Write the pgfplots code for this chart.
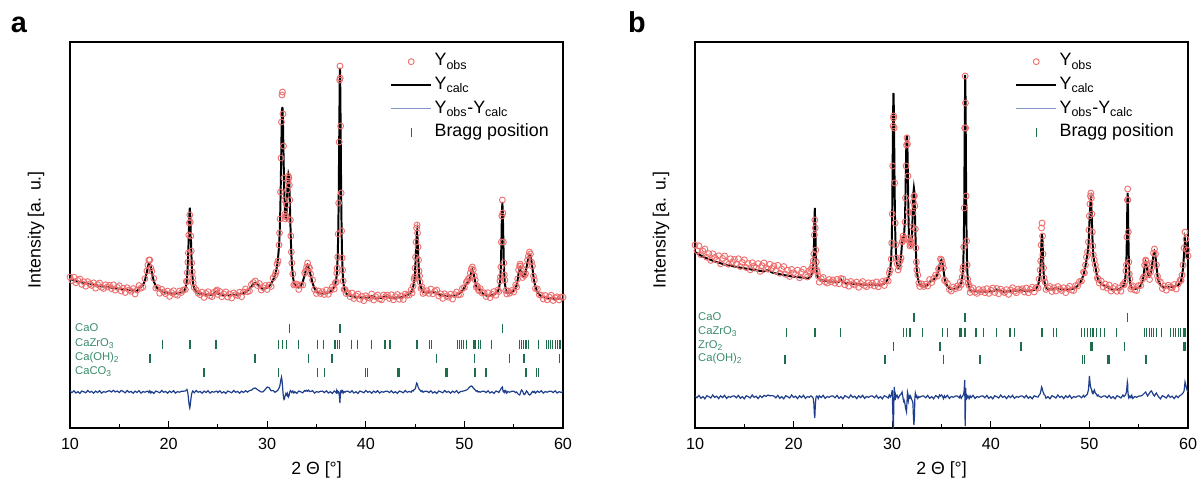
\documentclass[border=0pt]{standalone}
\usepackage{fontspec}
\setmainfont{Liberation Sans}
\usepackage{pgfplots}
\pgfplotsset{compat=1.18}
\usepackage{pgfplotstable}

\definecolor{obsred}{HTML}{EE6E6E}
\definecolor{diffblue}{HTML}{1F3E8C}
\definecolor{diffleg}{HTML}{8496C8}
\definecolor{bragg}{HTML}{1F6E4B}
\definecolor{phase}{HTML}{3C8C6C}

% heights are in pixels above the bottom frame (0..386)
% panel a
\pgfplotstableread{
x obs calc diff
10.0 151 149 36.8
10.2 147.4 148.4 35.4
10.4 150.8 147.8 37.2
10.6 145.2 147.2 35
10.8 147.6 146.6 36.3
11.0 149 146.0 34.6
11.2 143.6 145.6 37
11.4 146.2 145.2 36.2
11.6 141.8 144.8 35.2
11.8 146.4 144.4 37.5
12.0 144 144.0 35.7
12.2 142.6 143.6 36.6
12.4 145.2 143.2 34.8
12.6 139.8 142.8 36.9
12.8 143.4 142.4 35.5
13.0 145 142.0 37.3
13.2 140.7 141.7 34.9
13.4 139.5 141.5 36.4
13.6 143.2 141.2 35.8
13.8 141 141.0 36.7
14.0 142.7 140.7 37.3
14.2 139.4 140.4 36
14.4 143.2 140.2 37.7
14.6 137.9 139.9 36
14.8 140.6 139.6 37
15.0 142.3 139.3 35.4
15.2 137 139.0 37.5
15.4 139.8 138.8 36.5
15.6 135.5 138.5 35.2
15.8 140.3 138.3 37.5
16.0 138 138.0 35.7
16.2 136.7 137.7 36.6
16.4 139.4 137.4 34.8
16.6 134.1 137.1 36.9
16.8 137.9 136.9 35.5
17.0 142.5 139.5 37.3
17.2 139.8 140.8 34.9
17.4 141 143.0 36.4
17.6 149.3 147.3 35.8
17.8 157 156.2 36.7
17.9 163 161 36.8
18.0 168 165 35.4
18.1 168 165.2 37.2
18.2 160 160.8 35
18.3 156.7 155.7 36.3
18.5 149.6 146.6 34.6
18.7 139.9 141.9 37
18.9 140.4 139.4 36.2
19.1 134.7 137.7 35.2
19.3 138.7 136.7 37.5
19.5 136 136.0 35.7
19.7 134.3 135.3 36.6
19.9 136.9 134.9 34.8
20.1 131.6 134.6 36.9
20.3 135.4 134.4 35.5
20.5 137.3 134.3 37.3
20.7 133.5 134.5 34.9
20.9 132.7 134.7 36.4
21.1 137 135.0 35.8
21.3 135.5 135.5 36.7
21.5 138 136.0 36.8
21.7 138.5 139.5 37
21.8 146.8 143.8 38
21.85 146.2 148.2 38.5
21.9 155.3 154.3 37.5
21.95 165.8 163.8 35
22.0 175 176.9 31
22.05 193 194.3 26
22.1 205 211.7 22
22.15 213 220.4 20
22.2 206 211.7 23
22.25 192 194.3 28
22.3 177 176.9 32
22.35 165 163.8 34.5
22.4 156 154.3 36
22.45 150 148.2 37
22.5 145 143.8 36.5
22.6 140.5 139.5 35.2
22.8 138 136.0 37.5
23.0 134.9 134.9 35.7
23.2 133.3 134.3 36.6
23.4 135.9 133.9 34.8
23.6 130.6 133.6 36.9
23.8 134.4 133.4 35.5
24.0 136.3 133.3 37.3
24.2 132.2 133.2 34.9
24.4 131.3 133.3 36.4
24.6 135.8 133.8 35.8
24.8 136.8 135.8 36.7
24.9 138 136.0 36.8
25.0 133.5 134.5 35.4
25.2 136.5 133.5 37.2
25.4 131.2 133.2 35
25.6 134.1 133.1 36.3
25.8 136.1 133.1 34.6
26.0 131 133.0 37
26.2 134 133.0 36.2
26.4 130 133.0 35.2
26.6 135.1 133.1 37.5
26.8 133.3 133.3 35.7
27.0 132.5 133.5 36.6
27.2 135.8 133.8 34.8
27.4 131.3 134.3 36.9
27.6 136 135.0 35.5
27.8 139 136.0 37.3
28.0 136.3 137.3 35.9
28.2 137 139.0 37.4
28.4 143.5 141.5 37.8
28.6 145.5 144.0 39.5
28.8 147 145.0 40
29.0 142.5 143.5 38.4
29.2 144.5 141.5 37.2
29.4 138 140.0 36
29.6 140.3 139.3 36.3
29.8 142.5 139.5 38.6
30.0 138.5 140.5 41
30.2 143 142.0 40.2
30.4 141.5 144.5 37.2
30.6 150 148.0 37.5
30.8 153 153.0 35.7
30.9 156 157 36.6
31.0 164 162 37
31.1 167 170 38
31.2 183 182 40
31.25 195 192 41
31.3 209 206 43
31.35 236 228 46
31.4 270 258 49
31.45 306 292 51
31.5 333 318 48
31.55 336 321 42
31.6 314 305 36
31.65 282 277 31
31.7 250 250 28.5
31.75 228 230 29
31.8 214 217 31.5
31.85 209 211 33
31.9 212 210 34.5
31.95 211 214 33
32.0 223 225 32.5
32.05 238 240 34.5
32.1 247 250 33
32.15 252 254 31
32.2 250 252 32
32.25 243 242 34
32.3 228 225 36
32.35 208 205 37.5
32.4 192 188 37
32.45 176 174 36.5
32.5 165 164 35.5
32.6 154 152 37
32.7 143 146 35
32.8 144 143 36.3
33.0 144 141 34.6
33.2 138.5 140.5 37
33.4 143 142 36.2
33.6 143 146 35.2
33.8 155 153 37.5
33.9 157 157 36.7
34.0 161 161 37.6
34.1 165 163 36.8
34.2 161 161.5 37.9
34.3 160 158 36.5
34.4 154 153 36.5
34.6 148 145 37.3
34.8 138.5 139.5 34.9
35.0 134.5 136.5 36.4
35.2 137 135 35.8
35.4 134.5 134.5 36.7
35.6 136.3 134.3 36.8
35.8 133.5 134.5 35.4
36.0 138 135 37.2
36.2 133.7 135.7 35
36.4 137.5 136.5 36.3
36.6 141 138 34.6
36.8 139 141 37
36.9 145 144 36.2
37.0 146 149 35.2
37.05 155 153 37.5
37.1 160 160 35.7
37.15 171 172 36.6
37.2 194 192 35.5
37.25 225 228 36
37.3 286 285 34
37.35 348 345 28
37.38 362 360 25
37.4 350 352 30
37.45 302 300 37
37.5 235 236 37.5
37.55 197 195 36
37.6 170 170 36.7
37.65 158 156 37.3
37.7 147 148 34.9
37.8 138.5 140.5 36.4
37.9 138.5 136.5 35.8
38.0 134.5 134.5 36.7
38.2 135 133 36.8
38.4 131.3 132.3 35.4
38.6 135 132 37.2
38.8 129.5 131.5 35
39.0 132.2 131.2 36.3
39.2 134 131 34.6
39.4 128.8 130.8 37
39.6 131.5 130.5 36.2
39.8 127.3 130.3 35.2
40.0 132.2 130.2 37.5
40.2 130.3 130.3 35.7
40.4 129.8 130.8 36.6
40.6 134 132 34.8
40.8 128 131 36.9
41.0 131.3 130.3 35.5
41.2 133 130 37.3
41.4 129 130 34.9
41.6 128.2 130.2 36.4
41.8 133 131 35.8
42.0 131.5 131.5 36.7
42.2 133 131 36.8
42.4 129.5 130.5 35.4
42.6 133.3 130.3 37.2
42.8 128.2 130.2 35
43.0 131.3 130.3 36.3
43.2 133.5 130.5 34.6
43.4 128.7 130.7 37
43.6 132 131 36.2
43.8 128.5 131.5 35.2
44.0 134 132 37.5
44.2 132.8 132.8 35.7
44.4 133 134 36.6
44.6 138 136 35.8
44.7 135 138 37.5
44.8 142 141 37
44.9 149 146 38.5
44.95 151 150 38.5
45.0 160 157 39
45.05 171 167 40.5
45.1 186 180 42.5
45.15 200 192 45
45.2 203 196 44.5
45.25 195 190 43
45.3 181 177 41
45.35 168 164 40
45.4 157 155 39
45.45 152 149 38.5
45.5 146 145 38
45.6 139.5 140.5 36.5
45.7 141 138 37.4
45.8 134.5 136.5 35.8
46.0 135.5 135.5 36.7
46.2 137.3 135.3 36.8
46.4 134.6 135.6 35.4
46.6 139 136 37.2
46.8 134.2 136.2 35
47.0 136.8 135.8 36.3
47.2 138 135 34.6
47.4 132 134 37
47.6 134.2 133.2 36.2
47.8 129.6 132.6 35.2
48.0 134.2 132.2 37.5
48.2 132 132 35.7
48.4 130.8 131.8 36.6
48.6 133.8 131.8 34.8
48.8 129 132 36.9
49.0 133.4 132.4 35.5
49.2 136 133 37.3
49.4 133 134 34.9
49.6 133.5 135.5 36.4
49.8 139.5 137.5 36.8
50.0 140.5 140.5 37.2
50.2 146 144 38
50.3 147 145 38.5
50.4 149 146 39.5
50.5 150 148 40.5
50.6 155 152 41.5
50.7 159 156 42
50.8 161 158 41.5
50.9 158 156 40
51.0 152 151 39
51.1 148 146 38
51.2 141 142 36.7
51.3 142 140 37.3
51.4 138.5 139.5 35.9
51.5 137 139 36.4
51.6 139.5 137.5 35.8
51.8 135 135 36.7
52.0 135.3 133.3 36.8
52.2 131.5 132.5 35.4
52.4 135.3 132.3 37.2
52.6 130.4 132.4 35
52.8 133.8 132.8 36.3
53.0 136.5 133.5 34.6
53.2 132.7 134.7 37
53.4 138 137 36.2
53.5 136.5 139.5 35.5
53.6 147 145 37.5
53.65 151 151 38
53.7 161 162 39
53.75 186 184 40
53.8 212 212 40.5
53.85 228 226 41
53.9 215 214 38
53.95 186 188 36
54.0 165 165 36
54.05 153 152 37
54.1 148 145 35.5
54.2 137.5 138.5 37.3
54.3 134 136 34.9
54.4 137 135 36.4
54.6 134.8 134.8 35.8
54.8 137.5 135.5 36.7
55.0 136 137 36.8
55.2 143 140 35.4
55.3 141 143 36
55.4 149 148 34.5
55.5 158 155 33.5
55.6 162 160 33
55.65 164 161 34
55.7 162 160 36
55.8 157 156 38
55.9 150.5 152.5 37
56.0 153.5 151.5 34
56.1 152.5 152.5 33.5
56.2 154.5 155.5 35
56.3 162.5 160.5 37
56.4 168 166 36
56.5 172 170.5 34
56.6 176 173 33
56.7 174 172 33.5
56.8 166 167 35
56.9 162 160 36.5
57.0 152 152 35.7
57.1 148 146 36.6
57.2 139.5 141.5 34.8
57.4 139 136 36.9
57.6 133.3 133.3 35.5
57.8 132.8 131.8 37.3
58.0 129 131 34.9
58.2 132.5 130.5 36.4
58.4 128.2 130.2 35.8
58.6 131 130 36.7
58.8 132.8 129.8 36.8
59.0 127.5 129.5 35.4
59.2 130.3 129.3 37.2
59.4 131.2 129.2 35
59.6 128.1 129.1 36.3
59.8 131 129 35.6
60.0 130.8 128.8 36.4
}\pata

% panel b
\pgfplotstableread{
x obs calc diff
10.0 183 176 32
10.2 177.3 174.8 30.2
10.4 182.1 173.6 32.6
10.6 173.4 172.4 29.7
10.8 176.9 171.4 31.4
11.0 179 170.5 29.2
11.2 170.7 169.7 32.3
11.4 174.4 168.9 31.3
11.6 167.6 168.1 30
11.8 174.3 167.3 33
12.0 170.5 166.5 30.6
12.2 168.4 165.9 31.8
12.4 172.3 165.3 29.4
12.6 164.2 164.7 32.2
12.8 169.6 164.1 30.4
13.0 172 163.5 32.7
13.2 165.6 163.1 29.6
13.4 163.7 162.7 31.5
13.6 169.3 162.3 30.7
13.8 165.9 161.9 31.9
14.0 168.5 161.5 32
14.2 163.6 161.1 30.2
14.4 169.3 160.8 32.6
14.6 161.4 160.4 29.7
14.8 165.6 160.1 31.4
15.0 168.2 159.7 29.2
15.2 160.4 159.4 32.3
15.4 164.5 159.0 31.3
15.6 158.2 158.7 30
15.8 165.3 158.3 33
16.0 162 158.0 30.6
16.2 160.2 157.7 31.8
16.4 164.4 157.4 29.4
16.6 156.6 157.1 32.2
16.8 162.3 156.8 30.4
17.0 165.1 156.6 32.7
17.2 160 157.5 31.6
17.4 158.8 157.8 33
17.6 163.8 156.8 32.2
17.8 159.6 155.6 32.4
18.0 162 155.0 32
18.2 157.1 154.6 30.2
18.4 162.7 154.2 32.6
18.6 154.8 153.8 29.7
18.8 158.9 153.4 31.4
19.0 161.5 153.0 29.2
19.2 153.7 152.7 32.3
19.4 157.8 152.3 31.3
19.6 151.5 152.0 30
19.8 158.6 151.6 33
20.0 155.3 151.3 30.6
20.2 153.6 151.1 31.8
20.4 157.9 150.9 29.4
20.6 150.2 150.7 32.2
20.8 156 150.5 30.4
21.0 158.8 150.3 32.7
21.2 152.6 150.1 29.6
21.4 151 150.0 31.5
21.6 157.2 150.2 30.7
21.7 155 151 31.9
21.8 159.5 152.5 32
21.9 158 155.5 31
21.95 163 158.5 30.5
22.0 167 164 29
22.05 174 175 25
22.1 193 200 15
22.15 208 220 10
22.2 200 203 22
22.25 178 176 29
22.3 166 163 31.5
22.35 158 156 32
22.4 156 152.5 31.8
22.5 152 150 29.4
22.6 145.8 148.8 32.2
22.8 149.3 148.3 30.4
23.0 150.5 147.5 32.7
23.2 146.2 147.2 29.6
23.4 144.9 146.9 31.5
23.6 148.6 146.6 30.7
23.8 146.3 146.3 31.9
24.0 148 146.0 32
24.2 144.8 145.8 30.2
24.4 148.7 145.7 32.6
24.6 144.3 146.3 29.7
24.8 149.5 148.5 31.4
25.0 149 146.0 29.2
25.2 143.2 145.2 32.3
25.4 146 145.0 31.3
25.6 141.8 144.8 30
25.8 146.6 144.6 33
26.0 144.2 144.2 30.6
26.2 143 144.0 31.8
26.4 145.9 143.9 29.4
26.6 140.7 143.7 32.2
26.8 144.6 143.6 30.4
27.0 146.5 143.5 32.7
27.2 142.4 143.4 29.6
27.4 141.3 143.3 31.5
27.6 145.2 143.2 30.7
27.8 143.1 143.1 31.9
28.0 145 143.0 32
28.2 142 143.0 30.2
28.4 146.1 143.1 32.6
28.6 141.2 143.2 29.7
28.8 144.3 143.3 31.4
29.0 146.5 143.5 29.2
29.2 142.5 144.5 32.3
29.4 147.5 146.5 31.3
29.6 147 150 30
29.7 155 153 33
29.8 158 158 31
29.9 169 170 33
29.95 185 185 35
30.0 214 215 38
30.05 262 270 20
30.1 302 320 0.5
30.13 310 335 2
30.15 312 330 15
30.2 300 290 41
30.25 245 235 36
30.3 205 200 28
30.35 183 182 33
30.4 170 172 31
30.5 164 163 32.6
30.6 158 160 29.7
30.7 161.5 160.5 31.4
30.8 167 164 33
30.9 170 172 34
31.0 186 185 36
31.05 187 190 33
31.1 192 190 30
31.15 189 189 27
31.2 190 192 28
31.3 206 210 24
31.35 230 235 20
31.4 262 268 18
31.45 283 290 16
31.5 290 293 26
31.55 284 278 36
31.6 252 245 34
31.65 216 212 28
31.7 190 192 31
31.75 186 185 32
31.8 182 184 30.5
31.85 187 186 32
31.9 183 184 31
31.95 185 186 29
32.0 190 192 28
32.05 201 205 27
32.1 215 222 25
32.15 226 235 12
32.2 232 240 3
32.25 232 236 10
32.3 222 218 30
32.35 199 196 35
32.4 180 178 33
32.45 166 165 31
32.5 158 157 32
32.6 153 150 29.6
32.7 145 146 31.5
32.8 141.5 143.5 30.7
33.0 144 142 31.9
33.2 141.5 141.5 32
33.4 143.8 141.8 30.2
33.6 142 143 32.6
33.8 148.5 145.5 29.7
34.0 145.5 147.5 31.4
34.2 149.5 148.5 29.2
34.4 153 150 32.3
34.6 152 154 31.3
34.7 159 158 30
34.8 160 163 33
34.9 169 167 32
35.0 168 168 33
35.1 164 165 31.8
35.2 160 158 29.4
35.3 148 151 32.2
35.4 147 146 30.4
35.6 144.5 141.5 32.7
35.8 138.5 139.5 29.6
36.0 137 139 31.5
36.2 141 139 30.7
36.4 139.3 139.3 31.9
36.6 142 140 32
36.8 140.5 141.5 30.2
36.9 146 143 32.6
37.0 143.5 145.5 29.7
37.1 151 150 31.4
37.15 158 155 32
37.2 161 163 33
37.25 181 180 34
37.3 220 215 38
37.35 300 290 48
37.4 352 353 2
37.43 325 340 20
37.45 300 310 40
37.5 232 235 28
37.55 187 185 33
37.6 163 162 32
37.65 149 151 30.6
37.7 145 145 31.8
37.8 142.5 140.5 29.4
37.9 135.5 138.5 32.2
38.0 138.5 137.5 30.4
38.2 140 137 32.7
38.4 135.8 136.8 29.6
38.6 134.6 136.6 31.5
38.8 138.5 136.5 30.7
39.0 136.4 136.4 31.9
39.2 138.3 136.3 32
39.4 135.3 136.3 30.2
39.6 139.4 136.4 32.6
39.8 134.6 136.6 29.7
40.0 137.8 136.8 31.4
40.2 140 137 29.2
40.4 135.5 137.5 32.3
40.6 139.5 138.5 31.3
40.8 134.3 137.3 30
41.0 138.8 136.8 33
41.2 136.5 136.5 30.6
41.4 135.4 136.4 31.8
41.6 138.4 136.4 29.4
41.8 133.6 136.6 32.2
42.0 138 137 30.4
42.2 140.3 137.3 32.7
42.4 136.6 137.6 29.6
42.6 135.2 137.2 31.5
42.8 139 137 30.7
43.0 137.8 137.8 31.9
43.2 139.3 137.3 32
43.4 136 137 30.2
43.6 140 137 32.6
43.8 135.2 137.2 29.7
44.0 138.5 137.5 31.4
44.2 140.8 137.8 29.2
44.4 136 138 32.3
44.6 140.5 139.5 31.3
44.8 140 143 31
44.9 149 147 33
45.0 158 155 34
45.05 167 163 36
45.1 183 177 38
45.15 200 190 41
45.2 205 194 40
45.25 192 186 38
45.3 174 170 36
45.35 160 157 35
45.4 150 149 33.5
45.5 146 143 32.6
45.6 138.5 140.5 29.7
45.8 140 139 31.4
46.0 141.5 138.5 29.2
46.2 136.5 138.5 32.3
46.4 140.3 139.3 31.3
46.6 137 140 30
46.8 141.5 139.5 33
47.0 139 139 30.6
47.2 137.5 138.5 31.8
47.4 140.3 138.3 29.4
47.6 135.3 138.3 32.2
47.8 139.5 138.5 30.4
48.0 141.8 138.8 32.7
48.2 138 139 29.6
48.4 137.5 139.5 31.5
48.6 142.5 140.5 30.7
48.8 142 142 31.9
49.0 146.5 144.5 32
49.2 147 148 30.2
49.4 156 153 32.6
49.5 155 157 31
49.6 163 162 32
49.7 171 168 33
49.8 176 174 34
49.9 186 182 38
49.95 198 192 44
50.0 212 205 52
50.05 224 216 47
50.1 232 225 42
50.15 235 228 40
50.2 230 222 39
50.25 214 208 37
50.3 196 192 35
50.35 182 180 36
50.4 173 172 35
50.5 168 166 38
50.6 163 162 35
50.7 158 156 34
50.8 150 151 32
50.9 149 148 33
51.0 145 146 31.5
51.2 147 144 30.7
51.4 141 143 31.9
51.6 144 142 32
51.8 140 141 30.2
52.0 143 140 32.6
52.2 137 139 29.7
52.4 139.5 138.5 31.4
52.6 141.5 138.5 29.2
52.8 136.7 138.7 32.3
53.0 140 139 31.3
53.2 136.8 139.8 30
53.4 143.5 141.5 33
53.5 143 143 31.5
53.6 146 147 32.5
53.7 157 155 34
53.75 163 166 36
53.8 191 190 40
53.85 228 225 46
53.88 239 235 44
53.9 228 230 37
53.95 196 195 32
54.0 166 168 30
54.05 154 154 31
54.1 149 147 32
54.2 139 142 30.4
54.3 141 140 32.7
54.4 142.3 139.3 29.6
54.6 138 139 31.5
54.8 137.5 139.5 30.7
55.0 142.5 140.5 31.9
55.2 142.5 142.5 32
55.4 149 147 33
55.5 151 152 34
55.6 163 161 35
55.7 168 166 36
55.75 167 165 35
55.8 164 162 34
55.9 154 156 32
56.0 153.5 152.5 33.5
56.1 148.5 151.5 35
56.2 156 154 36.5
56.3 160 159 37
56.4 165 166 35
56.5 175 173 33
56.6 179 176 32
56.7 174 172 34
56.8 163 162 35
56.9 152 153 33
57.0 148 147 31.4
57.2 146 143 29.2
57.4 139.5 141.5 32.3
57.6 142 141 31.3
57.8 137.8 140.8 30
58.0 142.8 140.8 33
58.2 141 141 30.6
58.4 140.2 141.2 31.8
58.6 143.5 141.5 29.4
58.8 139 142 32.2
59.0 144 143 30.4
59.2 148 145 32.7
59.3 147.5 147.5 33
59.4 153 152 34
59.5 163 160 35
59.6 180 174 37
59.7 196 188 46
59.8 189 182 42
59.9 178 172 38
60.0 172 168 36
}\patb

\pgfplotsset{
  xrd/.style={
    width=123.25mm, height=96.5mm, scale only axis,
    xmin=10, xmax=60, ymin=0, ymax=386,
    xtick={10,20,...,60}, minor xtick={15,25,...,55},
    ytick=\empty, xtick pos=bottom, tick align=inside,
    major tick length=1.75mm, minor tick length=1mm,
    every tick/.style={black, line width=0.8pt},
    axis line style={line width=1.1pt},
    /pgf/number format/assume math mode=true,
    tick label style={font=\fontsize{11.5}{13}\selectfont},
    xticklabel style={yshift=-1.2mm},
    xlabel={2 Θ [°]}, ylabel={Intensity [a. u.]},
    label style={font=\fontsize{12.6}{14}\selectfont},
    xlabel style={at={(axis description cs:0.5,-0.109)}, anchor=center},
    ylabel style={at={(axis description cs:-0.069,0.514)}, anchor=center},
    legend cell align=left,
    legend image code/.code={\draw[mark repeat=2,mark phase=2,#1] plot coordinates {(0mm,0mm) (5mm,0mm) (10mm,0mm)};},
    legend style={draw=none, fill=none, at={(axis description cs:0.649,1)}, anchor=north west,
      yshift=-1.9mm, inner sep=0pt, row sep=0pt,
      font=\fontsize{12.7}{14}\selectfont,
      nodes={inner sep=0.6mm, text height=3.4mm, text depth=1.3mm}},
  },
  obs/.style={only marks, mark=o, mark size=2.1pt, obsred, mark options={line width=0.65pt}},
  calc/.style={black, line width=1.4pt, no marks},
  dif/.style={diffblue, line width=0.85pt, no marks, legend image post style={diffleg, line width=0.8pt}},
  br/.style={only marks, mark=|, mark size=3.2pt, bragg, mark options={line width=0.8pt}},
}
\tikzset{ph/.style={font=\fontsize{8}{9}\selectfont, text=phase, anchor=west, inner sep=0pt}}

\begin{document}
\begin{tikzpicture}
\begin{axis}[xrd]
\addplot[obs] table[x=x, y=obs] {\pata};
\addlegendentry{Y\textsubscript{obs}}
\addplot[calc] table[x=x, y=calc] {\pata};
\addlegendentry{Y\textsubscript{calc}}
\addplot[dif] table[x=x, y=diff] {\pata};
\addlegendentry{Y\textsubscript{obs}-Y\textsubscript{calc}}
% CaO
\addplot[br] coordinates {(32.24,100) (37.33,100) (37.42,100) (53.88,100)};
\addlegendentry{Bragg position}
% CaZrO3
\addplot[br, forget plot] coordinates {(19.36,84) (22.17,84) (24.81,84) (31.13,84) (31.53,84) (31.98,84)
  (33.16,84) (35.12,84) (35.69,84) (36.88,84) (37.11,84) (37.31,84) (38.57,84) (39.17,84)
  (40.6,84) (41.95,84) (42.45,84) (45.18,84) (45.28,84) (46.45,84) (46.68,84) (49.3,84)
  (49.5,84) (49.7,84) (49.9,84) (50.2,84) (50.9,84) (51.07,84) (51.4,84) (51.65,84)
  (52.77,84) (55.57,84) (55.8,84) (56.03,84) (56.25,84) (56.48,84) (57.5,84) (58.3,84)
  (58.55,84) (58.75,84) (58.95,84) (59.2,84) (59.45,84) (59.7,84)};
% Ca(OH)2
\addplot[br, forget plot] coordinates {(18.11,70) (28.76,70) (34.17,70) (36.53,70) (36.63,70)
  (47.19,70) (51.0,70) (54.56,70) (56.0,70) (56.12,70) (59.65,70)};
% CaCO3
\addplot[br, forget plot] coordinates {(23.59,56) (31.13,56) (35.12,56) (35.8,56) (40.0,56)
  (40.15,56) (43.2,56) (43.37,56) (48.13,56) (48.26,56) (51.0,56) (51.15,56) (52.1,56)
  (52.26,56) (56.2,56) (56.3,56) (57.33,56) (57.5,56)};
\node[ph] at (axis cs:10.5,100) {CaO};
\node[ph] at (axis cs:10.5,84) {CaZrO\textsubscript{3}};
\node[ph] at (axis cs:10.5,70) {Ca(OH)\textsubscript{2}};
\node[ph] at (axis cs:10.5,56) {CaCO\textsubscript{3}};
\end{axis}

\begin{axis}[xrd, at={(156.25mm,0)}]
\addplot[obs] table[x=x, y=obs] {\patb};
\addlegendentry{Y\textsubscript{obs}}
\addplot[calc] table[x=x, y=calc] {\patb};
\addlegendentry{Y\textsubscript{calc}}
\addplot[dif] table[x=x, y=diff] {\patb};
\addlegendentry{Y\textsubscript{obs}-Y\textsubscript{calc}}
% CaO
\addplot[br] coordinates {(32.21,111) (37.38,111) (53.88,111)};
\addlegendentry{Bragg position}
% CaZrO3
\addplot[br, forget plot] coordinates {(19.3,96) (22.17,96) (24.8,96) (31.13,96) (31.47,96) (31.8,96)
  (33.06,96) (35.12,96) (35.63,96) (36.88,96) (37.05,96) (37.38,96) (38.5,96) (39.24,96)
  (40.6,96) (41.95,96) (42.38,96) (45.16,96) (45.26,96) (46.35,96) (46.7,96) (49.2,96)
  (49.48,96) (49.78,96) (50.1,96) (50.37,96) (50.71,96) (51.1,96) (51.56,96) (52.77,96)
  (55.57,96) (55.8,96) (56.07,96) (56.3,96) (56.54,96) (56.8,96) (57.33,96) (58.25,96)
  (58.5,96) (58.75,96) (59.0,96) (59.25,96) (59.5,96) (59.7,96)};
% ZrO2
\addplot[br, forget plot] coordinates {(30.11,82) (34.78,82) (34.92,82) (43.06,82) (50.16,82)
  (50.33,82) (53.54,82) (59.6,82) (59.77,82)};
% Ca(OH)2
\addplot[br, forget plot] coordinates {(19.13,69) (29.27,69) (35.18,69) (38.9,69) (49.32,69)
  (49.49,69) (51.86,69) (51.99,69) (55.7,69) (55.8,69)};
\node[ph] at (axis cs:10.3,111) {CaO};
\node[ph] at (axis cs:10.3,96) {CaZrO\textsubscript{3}};
\node[ph] at (axis cs:10.3,82) {ZrO\textsubscript{2}};
\node[ph] at (axis cs:10.3,69) {Ca(OH)\textsubscript{2}};
\end{axis}

\node[font=\bfseries\fontsize{20.5}{22}\selectfont, anchor=base] at (-12.75mm,98.75mm) {a};
\node[font=\bfseries\fontsize{20.5}{22}\selectfont, anchor=base] at (141.75mm,98.75mm) {b};
\pgfresetboundingbox
\path[use as bounding box] (-17.5mm,-15mm) rectangle (282.25mm,107mm);
\end{tikzpicture}
\end{document}
